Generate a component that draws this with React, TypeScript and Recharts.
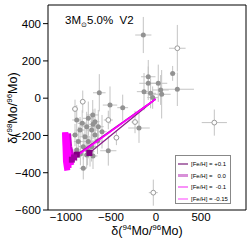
import React from "react";
import { ComposedChart, Scatter, XAxis, YAxis, ErrorBar } from "recharts";

const FONT = "'Liberation Sans', Arial, Helvetica, sans-serif";

// SiC grains, filled symbols
const grainX = [-141, 185, -86, -86, 25, -133, 52, 63, 237, -37, -370, -630, -511, -703, -189, -530, -808,
  -881, -752, -678, -770, -844, -715, -641, -900, -789, -678, -863, -752, -808, -715, -881, -733, -770,
  -820, -700, -600, -650, -840, -760, -700, -60];
const grainY = [339, 133, 115, 80, 80, 35, 44, 21, 48, 3, -51, 29, -37, -90, -160, -282, -376,
  -117, -108, -126, -153, -171, -171, -153, -198, -207, -198, -233, -233, -260, -260, -278, -287, -305,
  -135, -140, -180, -230, -300, -280, -310, 26];
const grainEx = [90, 30, 80, 100, 100, 80, 90, 100, 185, 60, 60, 70, 80, 70, 120, 90, 40,
  50, 60, 50, 60, 50, 60, 60, 40, 60, 50, 50, 60, 50, 60, 40, 50, 60,
  50, 60, 50, 60, 40, 50, 50, 60];
const grainEy = [97, 40, 90, 90, 100, 100, 80, 130, 90, 60, 70, 100, 100, 80, 80, 80, 60,
  80, 90, 70, 80, 70, 80, 90, 60, 80, 70, 80, 90, 70, 80, 60, 80, 70,
  70, 80, 90, 70, 60, 80, 70, 80];

// SiC grains, open symbols
const openX = [237, -900, -814, -530, -233, -440, 648, -30];
const openY = [268, -58, -19, -117, -128, -212, -131, -507];
const openEx = [92, 30, 30, 50, 40, 30, 140, 50];
const openEy = [125, 50, 60, 50, 60, 40, 70, 70];

// model predictions, 3 Msun, 5.0% pocket, V2
const metallicities = ["+0.1", "  0.0", " -0.1", "-0.15"];
const lineColors = ["#8a1a8a", "#b810b8", "#e000e0", "#ff00ff"];
const legendColors = ["#b078b0", "#d890d8", "#f890f8", "#ffa0ff"];
const originX = -5;
const originY = -5;
const mixEndX = [-740, -880, -910, -935];
const mixEndY = [-294, -303, -318, -330];
const pulseX = [
  [-975, -965, -945, -925],
  [-995, -985, -965, -950],
  [-1005, -1000, -985, -975],
  [-1010, -1005, -1000, -990],
];
const pulseY = [
  [-205, -260, -300, -320],
  [-210, -270, -320, -345],
  [-200, -260, -330, -360],
  [-200, -270, -340, -372],
];

const xTicks = [-1000, -500, 0, 500];
const yTicks = [-600, -400, -200, 0, 200, 400];

const grains = grainX.map((x, i) => ({ x, y: grainY[i], ex: grainEx[i], ey: grainEy[i] }));
const openGrains = openX.map((x, i) => ({ x, y: openY[i], ex: openEx[i], ey: openEy[i] }));

const fmt = (v: number) => (v < 0 ? "\u2212" + Math.abs(v) : String(v));

const noShape = () => <g />;

const filledDot = (p: any) => <circle cx={p.cx} cy={p.cy} r={2.5} fill="#929292" />;
const openDot = (p: any) => (
  <circle cx={p.cx} cy={p.cy} r={2.4} fill="#fff" stroke="#9a9a9a" strokeWidth={1} />
);
const endSquare = (color: string) => (p: any) => (
  <rect x={p.cx - 3} y={p.cy - 3} width={6} height={6} fill={color} />
);

export default function App() {
  return (
    <div style={{ position: "absolute", left: 0, top: 0, width: 249, height: 240, background: "#fff", fontFamily: FONT }}>
      <ComposedChart width={249} height={240} margin={{ top: 5, right: 3, bottom: 10, left: 8 }}>
        <XAxis
          type="number"
          dataKey="x"
          domain={[-1200, 1000]}
          ticks={xTicks}
          tickFormatter={fmt}
          tickLine={false}
          tickSize={0}
          tickMargin={3}
          height={20}
          stroke="#000"
          tick={{ fontSize: 11.5, fill: "#000", fontFamily: FONT }}
          allowDataOverflow
        />
        <XAxis
          xAxisId="bin"
          type="number"
          orientation="bottom"
          mirror
          domain={[-1200, 1000]}
          ticks={xTicks}
          tick={false}
          tickSize={4}
          axisLine={false}
          stroke="#000"
          allowDataOverflow
        />
        <XAxis
          xAxisId="top"
          type="number"
          orientation="top"
          mirror
          domain={[-1200, 1000]}
          ticks={xTicks}
          tick={false}
          tickSize={4}
          stroke="#000"
          allowDataOverflow
        />
        <YAxis
          type="number"
          dataKey="y"
          domain={[-600, 500]}
          ticks={yTicks}
          tickFormatter={fmt}
          tickSize={5}
          tickMargin={2}
          width={40}
          stroke="#000"
          tick={{ fontSize: 11.5, fill: "#000", fontFamily: FONT }}
          allowDataOverflow
        />
        <YAxis
          yAxisId="right"
          type="number"
          orientation="right"
          mirror
          domain={[-600, 500]}
          ticks={yTicks}
          tick={false}
          tickSize={5}
          stroke="#000"
          allowDataOverflow
        />

        <Scatter data={grains} shape={filledDot} isAnimationActive={false}>
          <ErrorBar dataKey="ex" direction="x" width={0} stroke="#c4c4c4" strokeWidth={1} />
          <ErrorBar dataKey="ey" direction="y" width={0} stroke="#c4c4c4" strokeWidth={1} />
        </Scatter>
        <Scatter data={openGrains} shape={openDot} isAnimationActive={false}>
          <ErrorBar dataKey="ex" direction="x" width={0} stroke="#c4c4c4" strokeWidth={1} />
          <ErrorBar dataKey="ey" direction="y" width={0} stroke="#c4c4c4" strokeWidth={1} />
        </Scatter>

        {metallicities.map((m, i) => (
          <Scatter
            key={"p" + m}
            data={pulseX[i].map((x, j) => ({ x, y: pulseY[i][j] }))}
            shape={noShape}
            line={{ stroke: i === 0 ? "#d200d2" : "#ff00ff", strokeWidth: 6, strokeLinejoin: "round", strokeLinecap: "square" }}
            isAnimationActive={false}
          />
        ))}
        {metallicities.map((m, i) => (
          <Scatter
            key={"m" + m}
            data={[{ x: originX, y: originY }, { x: mixEndX[i], y: mixEndY[i] }]}
            shape={noShape}
            line={{ stroke: lineColors[i], strokeWidth: 1.3 }}
            isAnimationActive={false}
          />
        ))}
        {metallicities.map((m, i) => (
          <Scatter
            key={"e" + m}
            data={[{ x: mixEndX[i], y: mixEndY[i] }]}
            shape={endSquare(i < 2 ? "#800080" : "#a000a0")}
            isAnimationActive={false}
          />
        ))}
      </ComposedChart>

      <div style={{ position: "absolute", left: 65, top: 14, fontSize: 11.5, whiteSpace: "pre", color: "#000" }}>
        3M<sub style={{ fontSize: 7, verticalAlign: "-3px" }}>{"\u2299"}</sub>5.0%{"  "}V2
      </div>

      <div
        style={{
          position: "absolute",
          left: 12,
          top: 108,
          transform: "translate(-50%, -50%) rotate(-90deg)",
          fontSize: 12.5,
          whiteSpace: "nowrap",
          color: "#000",
        }}
      >
        δ(<sup style={{ fontSize: 8, verticalAlign: "5px" }}>98</sup>Mo/<sup style={{ fontSize: 8, verticalAlign: "5px" }}>96</sup>Mo)
      </div>

      <div
        style={{
          position: "absolute",
          left: 147,
          top: 230,
          transform: "translate(-50%, -50%)",
          fontSize: 12.5,
          whiteSpace: "nowrap",
          color: "#000",
        }}
      >
        δ(<sup style={{ fontSize: 8, verticalAlign: "5px" }}>94</sup>Mo/<sup style={{ fontSize: 8, verticalAlign: "5px" }}>96</sup>Mo)
      </div>

      <div
        style={{
          position: "absolute",
          left: 175,
          top: 155,
          width: 56,
          height: 49,
          border: "1px solid #888",
          background: "#fff",
          boxSizing: "border-box",
          padding: "2px 0 0 2px",
        }}
      >
        {metallicities.map((m, i) => (
          <div key={m} style={{ display: "flex", alignItems: "center", height: 11.7 }}>
            <div style={{ width: 10, height: 2.5, background: legendColors[i], marginRight: 3 }} />
            <span style={{ fontSize: 6, whiteSpace: "pre", color: "#000" }}>[Fe/H] = {m}</span>
          </div>
        ))}
      </div>
    </div>
  );
}
